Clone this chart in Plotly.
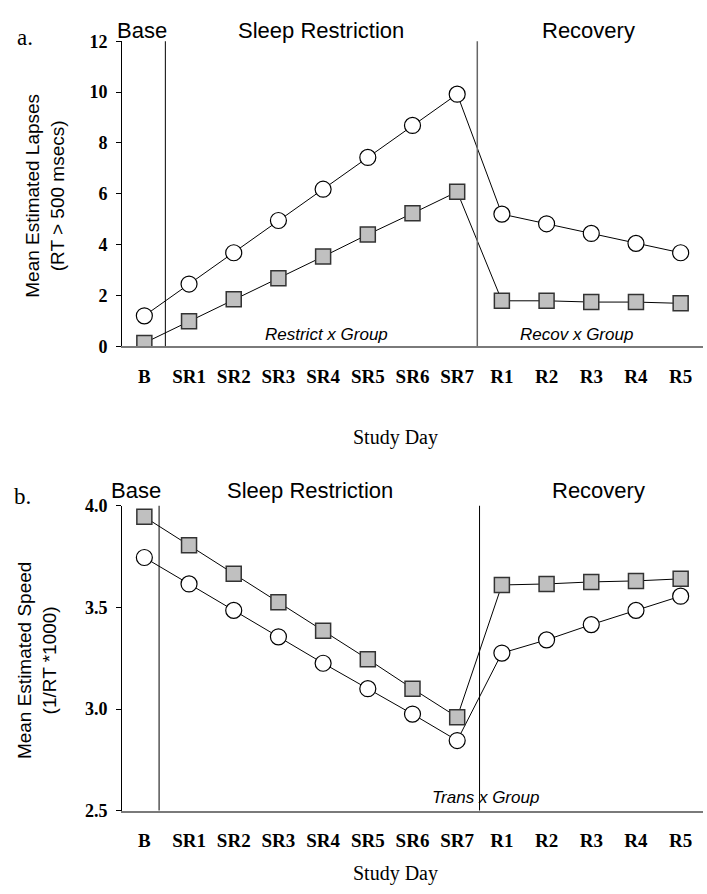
import plotly.graph_objects as go

days = ["B", "SR1", "SR2", "SR3", "SR4", "SR5", "SR6", "SR7", "R1", "R2", "R3", "R4", "R5"]

# Panel a: lapses
lapses_circle = [1.2, 2.45, 3.68, 4.95, 6.18, 7.43, 8.69, 9.92, 5.2, 4.82, 4.44, 4.05, 3.68]
lapses_square = [0.13, 0.99, 1.85, 2.68, 3.53, 4.4, 5.23, 6.08, 1.79, 1.79, 1.74, 1.74, 1.69]
# Panel b: speed
speed_circle = [3.745, 3.615, 3.485, 3.355, 3.225, 3.10, 2.975, 2.845, 3.275, 3.34, 3.415, 3.485, 3.555]
speed_square = [3.945, 3.805, 3.665, 3.525, 3.385, 3.245, 3.10, 2.96, 3.61, 3.615, 3.625, 3.63, 3.64]

xs = list(range(len(days)))

W, H = 707, 894
def py(p):  # pixel y (from top) -> paper
    return 1 - p / H
def px(p):
    return p / W

fig = go.Figure()

circ = dict(symbol="circle", size=16, color="white", line=dict(color="black", width=1.2))
sq = dict(symbol="square", size=15, color="#c0c0c0", line=dict(color="#333333", width=1.5))
ln = dict(color="black", width=1)

fig.add_trace(go.Scatter(x=xs, y=lapses_square, mode="lines+markers", marker=sq, line=ln, xaxis="x", yaxis="y", showlegend=False))
fig.add_trace(go.Scatter(x=xs, y=lapses_circle, mode="lines+markers", marker=circ, line=ln, xaxis="x", yaxis="y", showlegend=False))
fig.add_trace(go.Scatter(x=xs, y=speed_circle, mode="lines+markers", marker=circ, line=ln, xaxis="x2", yaxis="y2", showlegend=False))
fig.add_trace(go.Scatter(x=xs, y=speed_square, mode="lines+markers", marker=sq, line=ln, xaxis="x2", yaxis="y2", showlegend=False))

serif = "Liberation Serif, Times New Roman, serif"
sans = "Liberation Sans, Arial, sans-serif"
tickfont_x = dict(family=serif, size=19, color="black")
tickfont_y = dict(family=serif, size=18, color="black")

xcommon = dict(range=[-0.5, 12.5], tickmode="array", tickvals=xs, ticktext=["<b>%s</b>" % d for d in days],
               showline=True, linecolor="#7a7a7a", linewidth=2, ticks="", showgrid=False, zeroline=False,
               tickfont=tickfont_x, ticklabelstandoff=12, fixedrange=True)
ycommon = dict(showline=True, linecolor="black", linewidth=1, ticks="outside", ticklen=5, tickcolor="black",
               showgrid=False, zeroline=False, tickfont=tickfont_y, ticklabelstandoff=5, fixedrange=True)

fig.update_layout(
    width=W, height=H, margin=dict(l=0, r=0, t=0, b=0),
    plot_bgcolor="white", paper_bgcolor="white",
    xaxis=dict(domain=[px(122), px(703)], anchor="y", **xcommon),
    yaxis=dict(domain=[py(344), py(32)], anchor="x", range=[0, 12], tickvals=[0, 2, 4, 6, 8, 10, 12],
               ticktext=["<b>%d</b>" % v for v in [0, 2, 4, 6, 8, 10, 12]], **ycommon),
    xaxis2=dict(domain=[px(122), px(703)], anchor="y2", **xcommon),
    yaxis2=dict(domain=[py(819), py(507)], anchor="x2", range=[2.5, 4.0], tickvals=[2.5, 3.0, 3.5, 4.0],
                ticktext=["<b>%.1f</b>" % v for v in [2.5, 3.0, 3.5, 4.0]], **ycommon),
)

# phase separators
fig.add_shape(type="line", xref="x", yref="y", x0=0.47, x1=0.47, y0=0, y1=12.12, line=dict(color="black", width=1))
fig.add_shape(type="line", xref="x", yref="y", x0=7.45, x1=7.45, y0=0, y1=12.1, line=dict(color="#666666", width=1.5))
fig.add_shape(type="line", xref="x2", yref="y2", x0=0.33, x1=0.33, y0=2.5, y1=4.03, line=dict(color="black", width=1))
fig.add_shape(type="line", xref="x2", yref="y2", x0=7.5, x1=7.5, y0=2.5, y1=4.03, line=dict(color="black", width=1))

def ann(x, y, text, size, family, angle=0, xanchor="center"):
    fig.add_annotation(xref="paper", yref="paper", x=px(x), y=py(y), text=text, showarrow=False,
                       font=dict(family=family, size=size, color="black"), textangle=angle,
                       xanchor=xanchor, yanchor="middle")

# panel a texts
ann(25, 28, "a.", 23, serif)
ann(142, 21, "Base", 22, sans)
ann(321, 21, "Sleep Restriction", 22, sans)
ann(588, 21, "Recovery", 22, sans)
ann(326, 332, "<i>Restrict x Group</i>", 17, sans)
ann(576, 332, "<i>Recov x Group</i>", 17, sans)
ann(45, 190, "Mean Estimated Lapses<br>(RT > 500 msecs)", 19, sans, angle=-90)
ann(395, 437, "Study Day", 20, serif)

# panel b texts
ann(22, 498, "b.", 23, serif)
ann(136, 492, "Base", 22, sans)
ann(310, 492, "Sleep Restriction", 22, sans)
ann(598, 492, "Recovery", 22, sans)
ann(485, 806, "<i>Trans x Group</i>", 17, sans)
ann(37, 665, "Mean Estimated Speed<br>(1/RT *1000)", 19, sans, angle=-90)
ann(395, 883, "Study Day", 20, serif)

fig.write_html("out.html", config={"displayModeBar": False, "staticPlot": True},
               post_script="document.body.style.margin='0';")
